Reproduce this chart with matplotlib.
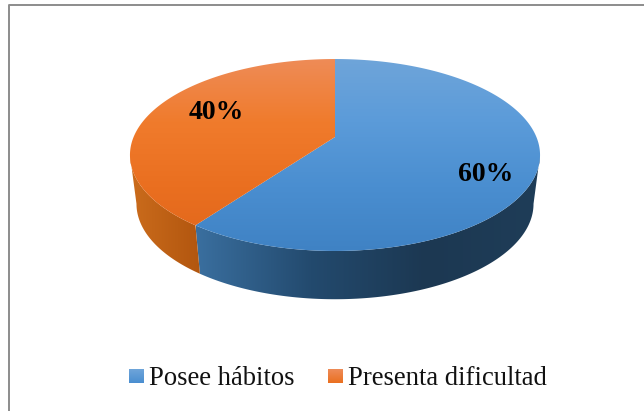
import numpy as np
import matplotlib
matplotlib.use('Agg')
import matplotlib.pyplot as plt
from matplotlib.colors import LinearSegmentedColormap
from matplotlib.patches import Polygon

labels = ['Posee hábitos', 'Presenta dificultad']
values = [60, 40]
pct_labels = ['60%', '40%']
pct_pos = [(485.5, 174.5), (216.5, 112.5)]

# top face gradients (top to bottom), side gradients (left to right)
top_colors = [['#6fa5da', '#5b9bd9', '#4a8ed0', '#3f82c4'],
              ['#ee8c58', '#f07b2c', '#ea6f20', '#e0661b']]
side_colors = [['#3a6f9f', '#234a6e', '#1c3852', '#1f3d58'],
               ['#cb6c1c', '#b2560f']]

W, H = 644, 411
K = 0.1875
fig = plt.figure(figsize=(W / 100, H / 100), dpi=100)
ax = fig.add_axes([0, 0, 1, 1])
plt.rcParams['font.family'] = ['Liberation Serif', 'DejaVu Serif']


def project(theta, cy, a, b, k=K, cx=335):
    # theta is clockwise from the back of the pie, simple perspective
    u, v = np.sin(theta), np.cos(theta)
    w = 1 + k * v
    return cx + a * u / w, cy - b * v / w


def grad_fill(pts, colors, vertical, extent):
    cmap = LinearSegmentedColormap.from_list('g', colors)
    g = np.linspace(0, 1, 256)
    g = g.reshape(-1, 1) if vertical else g.reshape(1, -1)
    im = ax.imshow(g, cmap=cmap, extent=extent, aspect='auto', origin='upper',
                   interpolation='bilinear', zorder=2)
    poly = Polygon(pts, closed=True, transform=ax.transData, fc='none', ec='none')
    ax.add_patch(poly)
    im.set_clip_path(poly)


edges = np.radians(np.concatenate([[0], np.cumsum(values)]) * 360 / sum(values))
# the side only shows between the two widest points of the ellipse
side_start = np.arccos(-K)
side_end = 2 * np.pi - side_start

# sides first
for i in range(len(values)):
    t0 = max(edges[i], side_start)
    t1 = min(edges[i + 1], side_end)
    t = np.linspace(t0, t1, 200)
    x1, y1 = project(t, 137, 201.4, 92.6)
    x2, y2 = project(t, 186, 195, 92)
    pts = np.column_stack([np.r_[x1, x2[::-1]], np.r_[y1, y2[::-1]]])
    ext = (196, 540, 300, 100) if i == 0 else (130, 200, 300, 100)
    grad_fill(pts, side_colors[i], False, ext)

# top face
for i in range(len(values)):
    t = np.linspace(edges[i], edges[i + 1], 300)
    x, y = project(t, 137, 201.4, 92.6)
    pts = np.column_stack([np.r_[335, x], np.r_[137, y]])
    grad_fill(pts, top_colors[i], True, (125, 545, 252, 58))

for txt, (px, py) in zip(pct_labels, pct_pos):
    ax.text(px, py, txt, ha='center', va='center', fontsize=20, fontweight='bold',
            color='black', zorder=5)

# legend
leg_x = [129, 328]
for i, lab in enumerate(labels):
    sq = [(leg_x[i], 369), (leg_x[i] + 15, 369), (leg_x[i] + 15, 383), (leg_x[i], 383)]
    grad_fill(sq, [top_colors[i][0], top_colors[i][2]], True, (leg_x[i], leg_x[i] + 15, 383, 369))
    ax.text(leg_x[i] + 20, 385, lab, ha='left', va='baseline', fontsize=19.2, color='#111111', zorder=5)

# frame, only top and left are inside the crop
ax.plot([9.5, 9.5, 644], [411, 5.5, 5.5], color='#8c8c8c', lw=1.4, zorder=6)

ax.set_xlim(0, W)
ax.set_ylim(H, 0)
ax.axis('off')
fig.savefig('out.png', dpi=100)
